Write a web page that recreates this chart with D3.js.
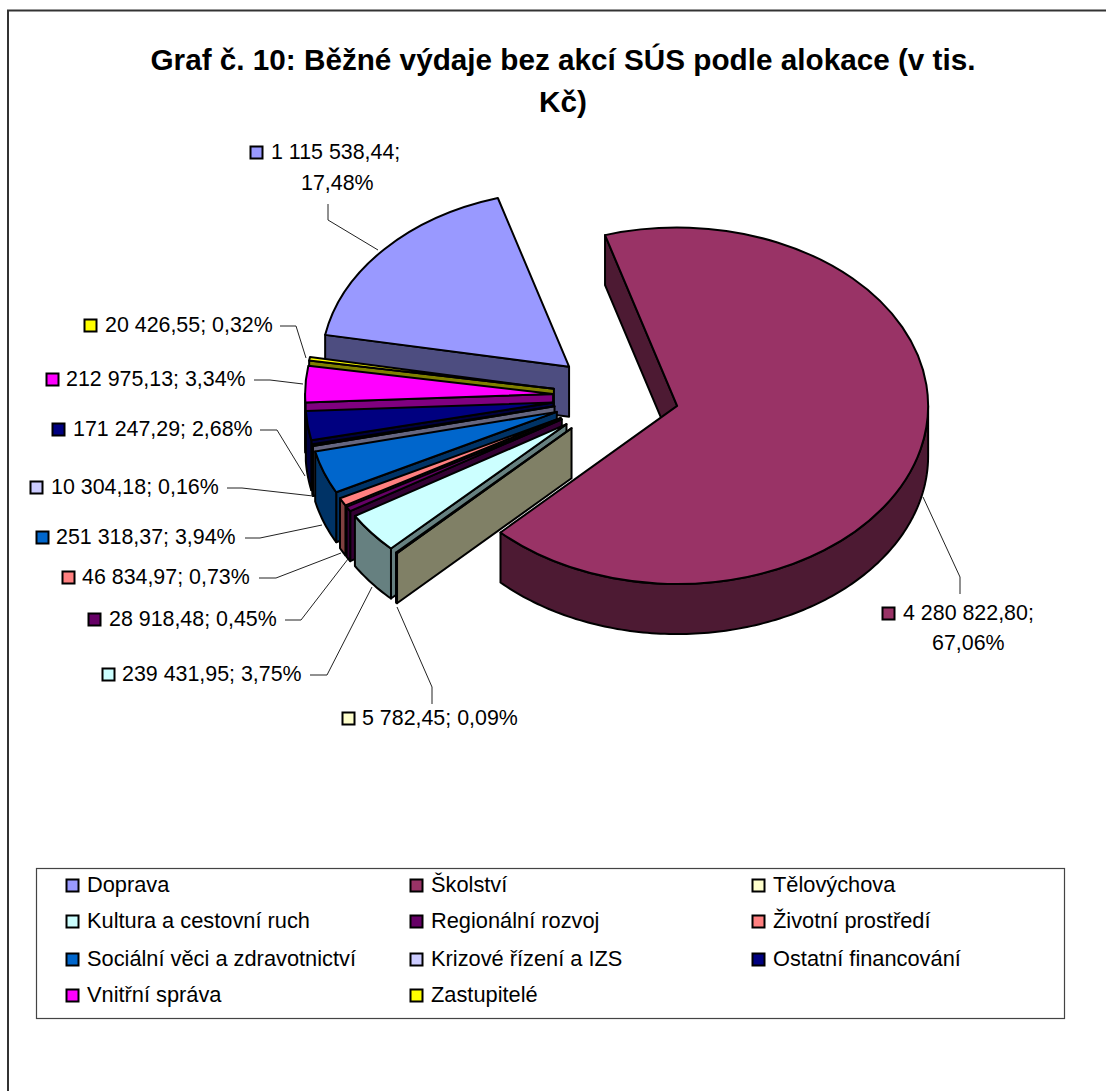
<!DOCTYPE html>
<html lang="cs">
<head>
<meta charset="utf-8">
<script src="https://cdn.jsdelivr.net/npm/d3@7"></script>
<style>
html,body{margin:0;padding:0;background:#fff}
svg{display:block}
text{font-family:"Liberation Sans",Arial,sans-serif;fill:#000}
</style>
</head>
<body>
<svg id="c" width="1106" height="1091"></svg>
<script>
const categories = ["Doprava","Školství","Tělovýchova","Kultura a cestovní ruch","Regionální rozvoj","Životní prostředí","Sociální věci a zdravotnictví","Krizové řízení a IZS","Ostatní financování","Vnitřní správa","Zastupitelé"];
const values = [1115538.44,4280822.80,5782.45,239431.95,28918.48,46834.97,251318.37,10304.18,171247.29,212975.13,20426.55];
const valueLabels = ["1 115 538,44","4 280 822,80","5 782,45","239 431,95","28 918,48","46 834,97","251 318,37","10 304,18","171 247,29","212 975,13","20 426,55"];
const percentLabels = ["17,48%","67,06%","0,09%","3,75%","0,45%","0,73%","3,94%","0,16%","2,68%","3,34%","0,32%"];
const colors = ["#9999FF","#993366","#FFFFCC","#CCFFFF","#660066","#FF8080","#0066CC","#CCCCFF","#000080","#FF00FF","#FFFF00"];
const titleLines = ["Graf č. 10: Běžné výdaje bez akcí SÚS podle alokace (v tis.","Kč)"];

// Layout of the data labels: swatch x, text x, baseline y, second-line x (if wrapped), leader polyline
const labelLayout = [
  {sx:250,tx:271,y:159,wrapX:301,wrapY:190,lead:[[328,204],[328,220],[378,250]]},
  {sx:882,tx:903,y:620,wrapX:932,wrapY:650,lead:[[960,594],[960,577],[923,497]]},
  {sx:342,tx:362,y:725,lead:[[432,704],[432,687],[397,607]]},
  {sx:102,tx:122,y:681,lead:[[310,675],[327,675],[372,587]]},
  {sx:88,tx:109,y:626,lead:[[285,620],[301,620],[348,559]]},
  {sx:62,tx:82,y:584,lead:[[259,578],[276,578],[341,553]]},
  {sx:36,tx:56,y:544,lead:[[245,538],[260,538],[322,525]]},
  {sx:30,tx:51,y:494,lead:[[227,488],[242,488],[313,496]]},
  {sx:52,tx:73,y:436,lead:[[260,430],[277,430],[305,476]]},
  {sx:46,tx:66,y:386,lead:[[254,380],[270,380],[303,384]]},
  {sx:84,tx:105,y:332,lead:[[280,326],[296,326],[306,358]]}
];

const svg = d3.select("#c");
const FS = 21.4, FSL = 21.8;
const cx = 616, cy = 395, tilt = 0.71, depth = 50, explode = 63;
const radiusOf = i => i===1 ? 251 : 248;
const nudgeOf = i => i===1 ? 0 : 1.5;
const deg = Math.PI/180;
const startAng = -79.6*deg;

// frame
svg.append("path").attr("d","M8 1091V10.5H1106").attr("fill","none").attr("stroke","#333").attr("stroke-width",2);

// title
svg.append("g").selectAll("text").data(titleLines).join("text")
  .attr("x",563).attr("y",(d,i)=>70+i*42).attr("text-anchor","middle")
  .attr("font-size",29.7).attr("font-weight","bold").text(d=>d);

// pie
const pie = d3.pie().value(d=>d).sort(null).startAngle(startAng).endAngle(startAng+2*Math.PI);
const arcs = pie(values).map((a,i)=>{
  const m=(a.startAngle+a.endAngle)/2;
  return {...a,i,R:radiusOf(i),ax:cx+explode*Math.sin(m),ay:cy+nudgeOf(i)-explode*tilt*Math.cos(m)};
});
const sideColor = c=>{const r=d3.rgb(c);return d3.rgb(r.r/2,r.g/2,r.b/2).formatHex();};
const P = (s,a,dz=0)=>[s.ax+s.R*Math.sin(a), s.ay-s.R*tilt*Math.cos(a)+dz];
const pathLine = d3.line();
const topArc = d3.arc().innerRadius(0).outerRadius(d=>d.R);
const pieG = svg.append("g").attr("stroke","#000").attr("stroke-width",2).attr("stroke-linejoin","round");

arcs.slice().sort((p,q)=>p.ay-q.ay).forEach(s=>{
  const g = pieG.append("g");
  const sc = sideColor(colors[s.i]);
  const radial = a=>{
    const e=P(s,a);
    g.append("path").attr("fill",sc)
     .attr("d",pathLine([[s.ax,s.ay],e,[e[0],e[1]+depth],[s.ax,s.ay+depth]])+"Z");
  };
  if(Math.sin(s.startAngle)<0) radial(s.startAngle);
  if(Math.sin(s.endAngle)>0) radial(s.endAngle);
  const a0=Math.max(s.startAngle,90*deg), a1=Math.min(s.endAngle,270*deg);
  if(a1>a0){
    const n=Math.max(2,Math.ceil((a1-a0)/deg));
    const as=d3.range(n+1).map(k=>a0+(a1-a0)*k/n);
    g.append("path").attr("fill",sc)
     .attr("d",pathLine(as.map(a=>P(s,a)).concat(as.slice().reverse().map(a=>P(s,a,depth))))+"Z");
  }
  g.append("path").attr("fill",colors[s.i])
   .attr("transform",`translate(${s.ax},${s.ay}) scale(1,${tilt})`)
   .attr("vector-effect","non-scaling-stroke")
   .attr("d",topArc(s));
});

// leader lines
svg.append("g").attr("fill","none").attr("stroke","#222").attr("stroke-width",1)
  .selectAll("path").data(labelLayout).join("path").attr("d",d=>pathLine(d.lead));

// data labels
const lab = svg.append("g").selectAll("g").data(labelLayout).join("g");
lab.append("rect").attr("x",d=>d.sx+.5).attr("y",d=>d.y-12.5).attr("width",12).attr("height",12)
  .attr("fill",(d,i)=>colors[i]).attr("stroke","#000").attr("stroke-width",2);
lab.append("text").attr("x",d=>d.tx).attr("y",d=>d.y).attr("font-size",FS)
  .text((d,i)=>d.wrapX?valueLabels[i]+";":valueLabels[i]+"; "+percentLabels[i]);
lab.filter(d=>d.wrapX).append("text").attr("x",d=>d.wrapX).attr("y",d=>d.wrapY).attr("font-size",FS)
  .text(d=>percentLabels[labelLayout.indexOf(d)]);

// legend
svg.append("rect").attr("x",36.5).attr("y",868.5).attr("width",1028).attr("height",150)
  .attr("fill","#fff").attr("stroke","#444").attr("stroke-width",1.2);
const colX = [66,410,752], rowY = [892,928,966,1002];
const leg = svg.append("g").selectAll("g").data(categories).join("g")
  .attr("transform",(d,i)=>`translate(${colX[i%3]},${rowY[Math.floor(i/3)]})`);
leg.append("rect").attr("x",.5).attr("y",-12.5).attr("width",12).attr("height",12)
  .attr("fill",(d,i)=>colors[i]).attr("stroke","#000").attr("stroke-width",2);
leg.append("text").attr("x",21).attr("font-size",FSL).text(d=>d);
</script>
</body>
</html>
